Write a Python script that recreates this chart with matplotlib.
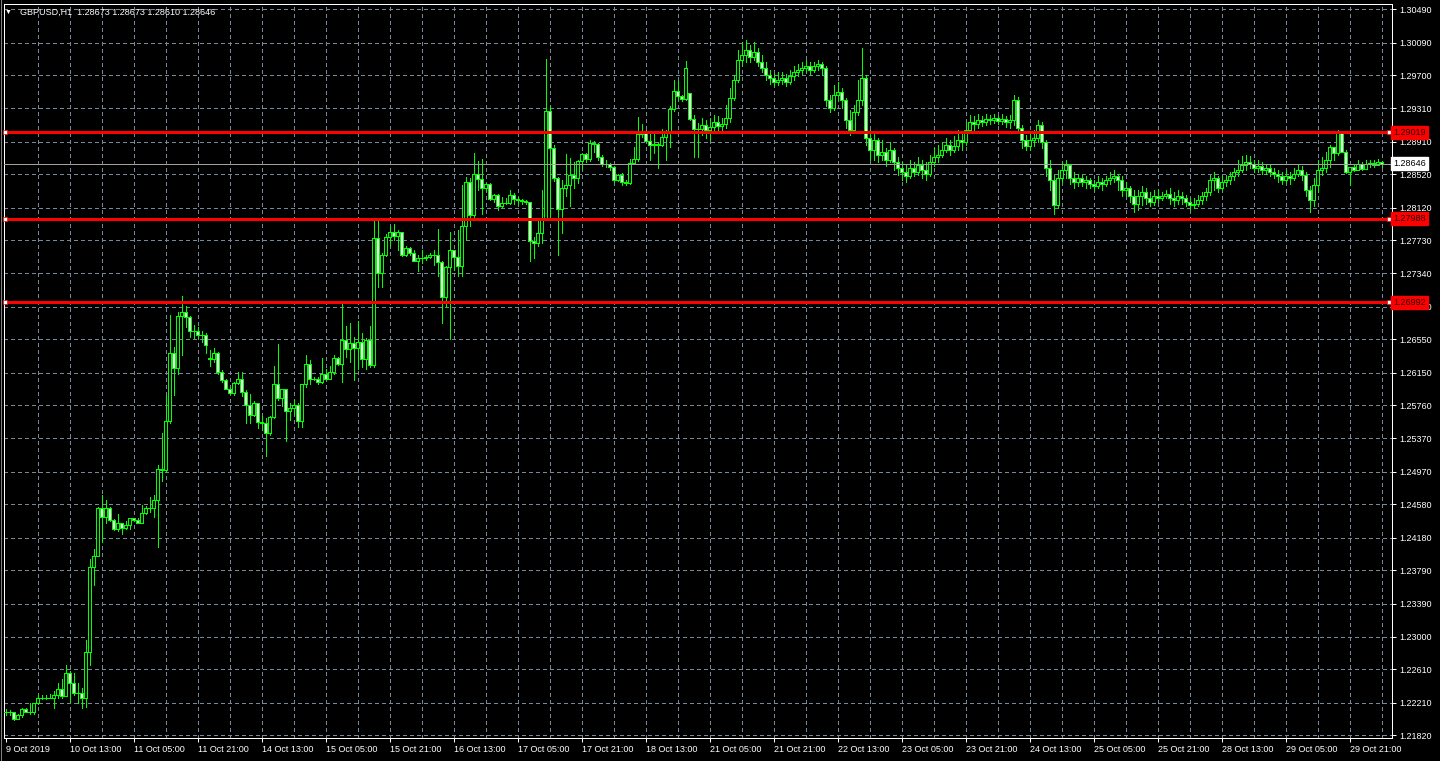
import matplotlib
matplotlib.use('Agg')
import matplotlib.pyplot as plt
from matplotlib.lines import Line2D
from matplotlib.transforms import blended_transform_factory

plt.rcParams['font.family'] = ['Liberation Sans', 'DejaVu Sans']

# --- data (one value per hourly bar) ---
symbol_info = "GBPUSD,H1  1.28673 1.28673 1.28610 1.28646"
first_open = 1.2210
gap_opens = {51: 1.2633, 171: 1.2949}   # Monday opens after the weekend

closes = [
    1.2210, 1.2210, 1.2202, 1.2206, 1.2213, 1.2210, 1.2210, 1.2220, 1.2226, 1.2227,
    1.2227, 1.2227, 1.2230, 1.2237, 1.2229, 1.2256, 1.2244, 1.2232, 1.2232, 1.2226,
    1.2282, 1.2383, 1.2396, 1.2453, 1.2443, 1.2454, 1.2439, 1.2428, 1.2435, 1.2429,
    1.2433, 1.2441, 1.2439, 1.2436, 1.2448, 1.2453, 1.2454, 1.2463, 1.2500, 1.2499,
    1.2557, 1.2639, 1.2621, 1.2683, 1.2688, 1.2682, 1.2665, 1.2665, 1.2660, 1.2660,
    1.2648, 1.2631, 1.2638, 1.2616, 1.2606, 1.2596, 1.2591, 1.2603, 1.2607, 1.2592,
    1.2576, 1.2564, 1.2579, 1.2556, 1.2555, 1.2543, 1.2562, 1.2601, 1.2585, 1.2595,
    1.2569, 1.2573, 1.2576, 1.2557, 1.2601, 1.2626, 1.2607, 1.2608, 1.2604, 1.2614,
    1.2608, 1.2616, 1.2632, 1.2626, 1.2654, 1.2643, 1.2650, 1.2644, 1.2652, 1.2631,
    1.2654, 1.2624, 1.2776, 1.2734, 1.2755, 1.2777, 1.2783, 1.2778, 1.2783, 1.2756,
    1.2764, 1.2758, 1.2749, 1.2752, 1.2752, 1.2753, 1.2756, 1.2755, 1.2747, 1.2705,
    1.2741, 1.2762, 1.2753, 1.2743, 1.2790, 1.2843, 1.2803, 1.2852, 1.2846, 1.2835,
    1.2840, 1.2823, 1.2827, 1.2814, 1.2818, 1.2818, 1.2827, 1.2822, 1.2821, 1.2820,
    1.2819, 1.2772, 1.2770, 1.2782, 1.2798, 1.2928, 1.2883, 1.2848, 1.2811, 1.2836,
    1.2839, 1.2851, 1.2848, 1.2868, 1.2876, 1.2870, 1.2889, 1.2888, 1.2872, 1.2864,
    1.2864, 1.2861, 1.2845, 1.2851, 1.2843, 1.2841, 1.2866, 1.2870, 1.2900, 1.2901,
    1.2892, 1.2887, 1.2888, 1.2887, 1.2897, 1.2901, 1.2930, 1.2952, 1.2945, 1.2942,
    1.2979, 1.2918, 1.2906,
    1.2906, 1.2911, 1.2905, 1.2908, 1.2914, 1.2910, 1.2912, 1.2919, 1.2943, 1.2965,
    1.2989, 1.2994, 1.3000, 1.2992, 1.2998, 1.2986, 1.2979, 1.2971, 1.2967, 1.2962,
    1.2965, 1.2967, 1.2962, 1.2969, 1.2974, 1.2977, 1.2979, 1.2981, 1.2977, 1.2981,
    1.2984, 1.2979, 1.2941, 1.2931, 1.2947, 1.2950, 1.2941, 1.2917, 1.2905, 1.2926,
    1.2941, 1.2967, 1.2895, 1.2881, 1.2893, 1.2875, 1.2879, 1.2869, 1.2881, 1.2867,
    1.2860, 1.2855, 1.2850, 1.2860, 1.2855, 1.2863, 1.2857, 1.2852, 1.2867, 1.2872,
    1.2875, 1.2881, 1.2887, 1.2881, 1.2886, 1.2893, 1.2891, 1.2905, 1.2914, 1.2912,
    1.2917, 1.2914, 1.2918, 1.2917, 1.2919, 1.2916, 1.2918, 1.2914, 1.2917, 1.2941,
    1.2907, 1.2893, 1.2886, 1.2893, 1.2895, 1.2911, 1.2891, 1.2860, 1.2845, 1.2815,
    1.2848, 1.2857, 1.2863, 1.2848, 1.2843, 1.2848, 1.2843, 1.2845, 1.2840, 1.2838,
    1.2843, 1.2840, 1.2845, 1.2848, 1.2850, 1.2845, 1.2833, 1.2836, 1.2826, 1.2817,
    1.2826, 1.2831, 1.2824, 1.2819, 1.2826, 1.2824, 1.2826, 1.2829, 1.2824, 1.2821,
    1.2826, 1.2824, 1.2819, 1.2815, 1.2817, 1.2821, 1.2826, 1.2831, 1.2845, 1.2848,
    1.2836, 1.2843, 1.2845, 1.2850, 1.2855, 1.2857, 1.2863, 1.2867, 1.2864, 1.2860,
    1.2862, 1.2857, 1.2860, 1.2855, 1.2852, 1.2850, 1.2845, 1.2850, 1.2848, 1.2852,
    1.2857, 1.2851, 1.2833, 1.2821, 1.2839, 1.2857, 1.2860, 1.2869, 1.2885, 1.2877,
    1.2902, 1.2879, 1.2855, 1.2861, 1.2857, 1.2864, 1.2858, 1.2864, 1.2866, 1.2863,
    1.2867, 1.28646,
]

highs = [
    1.2214, 1.2212, 1.2210, 1.2208, 1.2215, 1.2215, 1.2221, 1.2221, 1.2230, 1.2230,
    1.2230, 1.2231, 1.2235, 1.2245, 1.2249, 1.2266, 1.2259, 1.2257, 1.2245, 1.2239,
    1.2296, 1.2392, 1.2405, 1.2455, 1.2469, 1.2463, 1.2455, 1.2440, 1.2446, 1.2433,
    1.2438, 1.2441, 1.2442, 1.2441, 1.2457, 1.2456, 1.2467, 1.2469, 1.2505, 1.2543,
    1.2588, 1.2684, 1.2646, 1.2688, 1.2707, 1.2695, 1.2683, 1.2672, 1.2670, 1.2665,
    1.2662, 1.2642, 1.2644, 1.2640, 1.2618, 1.2607, 1.2598, 1.2604, 1.2616, 1.2616,
    1.2594, 1.2590, 1.2581, 1.2579, 1.2563, 1.2561, 1.2563, 1.2623, 1.2649, 1.2596,
    1.2596, 1.2579, 1.2583, 1.2579, 1.2602, 1.2636, 1.2630, 1.2610, 1.2610, 1.2632,
    1.2619, 1.2623, 1.2636, 1.2634, 1.2697, 1.2671, 1.2674, 1.2658, 1.2677, 1.2662,
    1.2656, 1.2671, 1.2797, 1.2798, 1.2758, 1.2781, 1.2790, 1.2793, 1.2785, 1.2779,
    1.2766, 1.2765, 1.2762, 1.2756, 1.2762, 1.2756, 1.2758, 1.2761, 1.2787, 1.2748,
    1.2742, 1.2783, 1.2762, 1.2786, 1.2839, 1.2849, 1.2847, 1.2877, 1.2868, 1.2870,
    1.2841, 1.2841, 1.2829, 1.2829, 1.2825, 1.2824, 1.2833, 1.2830, 1.2825, 1.2823,
    1.2821, 1.2818, 1.2777, 1.2798, 1.2833, 1.2990, 1.2933, 1.2887, 1.2849, 1.2845,
    1.2876, 1.2871, 1.2867, 1.2869, 1.2877, 1.2877, 1.2893, 1.2892, 1.2889, 1.2875,
    1.2869, 1.2866, 1.2862, 1.2852, 1.2854, 1.2845, 1.2870, 1.2884, 1.2920, 1.2912,
    1.2905, 1.2900, 1.2904, 1.2891, 1.2906, 1.2905, 1.2933, 1.2965, 1.2963, 1.2947,
    1.2987, 1.2949, 1.2923,
    1.2913, 1.2919, 1.2917, 1.2919, 1.2923, 1.2922, 1.2919, 1.2935, 1.2955, 1.2971,
    1.3000, 1.3010, 1.3012, 1.3006, 1.3010, 1.3003, 1.2994, 1.2986, 1.2977, 1.2972,
    1.2974, 1.2974, 1.2972, 1.2977, 1.2981, 1.2984, 1.2986, 1.2989, 1.2986, 1.2986,
    1.2989, 1.2986, 1.2981, 1.2947, 1.2959, 1.2962, 1.2955, 1.2943, 1.2929, 1.2935,
    1.2965, 1.3003, 1.2971, 1.2905, 1.2903, 1.2895, 1.2893, 1.2883, 1.2891, 1.2883,
    1.2872, 1.2867, 1.2863, 1.2869, 1.2867, 1.2872, 1.2869, 1.2867, 1.2875, 1.2883,
    1.2887, 1.2891, 1.2895, 1.2893, 1.2898, 1.2905, 1.2903, 1.2914, 1.2923, 1.2922,
    1.2924, 1.2922, 1.2924, 1.2923, 1.2924, 1.2922, 1.2924, 1.2922, 1.2923, 1.2947,
    1.2944, 1.2911, 1.2899, 1.2903, 1.2905, 1.2917, 1.2914, 1.2893, 1.2869, 1.2851,
    1.2857, 1.2867, 1.2869, 1.2864, 1.2855, 1.2852, 1.2851, 1.2850, 1.2848, 1.2845,
    1.2850, 1.2848, 1.2850, 1.2855, 1.2857, 1.2852, 1.2850, 1.2843, 1.2838, 1.2833,
    1.2833, 1.2838, 1.2836, 1.2831, 1.2833, 1.2833, 1.2831, 1.2833, 1.2836, 1.2831,
    1.2833, 1.2831, 1.2827, 1.2824, 1.2824, 1.2827, 1.2831, 1.2836, 1.2851, 1.2855,
    1.2850, 1.2850, 1.2851, 1.2855, 1.2860, 1.2869, 1.2874, 1.2875, 1.2874, 1.2869,
    1.2869, 1.2867, 1.2864, 1.2863, 1.2860, 1.2857, 1.2855, 1.2857, 1.2855, 1.2860,
    1.2864, 1.2862, 1.2855, 1.2838, 1.2848, 1.2869, 1.2872, 1.2879, 1.2887, 1.2883,
    1.2905, 1.2903, 1.2881, 1.2861, 1.2863, 1.2869, 1.2867, 1.2869, 1.2869, 1.2869,
    1.2870, 1.28673,
]

lows = [
    1.2206, 1.2206, 1.2200, 1.2201, 1.2204, 1.2210, 1.2208, 1.2208, 1.2219, 1.2225,
    1.2225, 1.2226, 1.2215, 1.2226, 1.2227, 1.2229, 1.2222, 1.2230, 1.2221, 1.2215,
    1.2216, 1.2266, 1.2361, 1.2396, 1.2413, 1.2436, 1.2438, 1.2427, 1.2426, 1.2423,
    1.2428, 1.2428, 1.2438, 1.2435, 1.2436, 1.2446, 1.2449, 1.2443, 1.2407, 1.2486,
    1.2496, 1.2555, 1.2588, 1.2613, 1.2636, 1.2670, 1.2658, 1.2656, 1.2656, 1.2652,
    1.2638, 1.2623, 1.2628, 1.2614, 1.2604, 1.2595, 1.2590, 1.2588, 1.2602, 1.2587,
    1.2555, 1.2555, 1.2563, 1.2549, 1.2547, 1.2515, 1.2541, 1.2561, 1.2582, 1.2575,
    1.2533, 1.2558, 1.2565, 1.2550, 1.2550, 1.2598, 1.2602, 1.2606, 1.2602, 1.2603,
    1.2606, 1.2608, 1.2614, 1.2624, 1.2604, 1.2634, 1.2628, 1.2606, 1.2620, 1.2622,
    1.2619, 1.2622, 1.2622, 1.2717, 1.2717, 1.2754, 1.2766, 1.2774, 1.2762, 1.2754,
    1.2754, 1.2756, 1.2748, 1.2737, 1.2746, 1.2750, 1.2752, 1.2744, 1.2731, 1.2674,
    1.2693, 1.2655, 1.2738, 1.2731, 1.2731, 1.2774, 1.2790, 1.2801, 1.2833, 1.2805,
    1.2832, 1.2821, 1.2819, 1.2809, 1.2813, 1.2817, 1.2817, 1.2817, 1.2817, 1.2817,
    1.2817, 1.2748, 1.2752, 1.2766, 1.2770, 1.2799, 1.2797, 1.2844, 1.2756, 1.2782,
    1.2826, 1.2814, 1.2835, 1.2841, 1.2858, 1.2867, 1.2868, 1.2879, 1.2869, 1.2862,
    1.2861, 1.2857, 1.2843, 1.2844, 1.2839, 1.2839, 1.2840, 1.2864, 1.2868, 1.2897,
    1.2891, 1.2869, 1.2877, 1.2860, 1.2886, 1.2869, 1.2885, 1.2928, 1.2941, 1.2940,
    1.2941, 1.2917, 1.2873,
    1.2873, 1.2899, 1.2895, 1.2893, 1.2903, 1.2905, 1.2905, 1.2907, 1.2914, 1.2941,
    1.2962, 1.2983, 1.2986, 1.2986, 1.2989, 1.2981, 1.2974, 1.2965, 1.2960, 1.2957,
    1.2959, 1.2960, 1.2957, 1.2960, 1.2965, 1.2969, 1.2972, 1.2974, 1.2972, 1.2974,
    1.2977, 1.2971, 1.2934, 1.2926, 1.2929, 1.2941, 1.2931, 1.2907, 1.2899, 1.2903,
    1.2923, 1.2935, 1.2887, 1.2869, 1.2869, 1.2867, 1.2869, 1.2862, 1.2867, 1.2857,
    1.2851, 1.2845, 1.2843, 1.2848, 1.2850, 1.2851, 1.2848, 1.2845, 1.2850, 1.2862,
    1.2867, 1.2872, 1.2879, 1.2875, 1.2879, 1.2881, 1.2881, 1.2887, 1.2903, 1.2905,
    1.2907, 1.2910, 1.2911, 1.2912, 1.2913, 1.2912, 1.2912, 1.2908, 1.2907, 1.2911,
    1.2903, 1.2883, 1.2881, 1.2881, 1.2886, 1.2891, 1.2883, 1.2850, 1.2833, 1.2805,
    1.2812, 1.2843, 1.2848, 1.2840, 1.2836, 1.2838, 1.2838, 1.2836, 1.2836, 1.2833,
    1.2836, 1.2833, 1.2838, 1.2840, 1.2843, 1.2833, 1.2826, 1.2826, 1.2819, 1.2807,
    1.2809, 1.2815, 1.2817, 1.2814, 1.2815, 1.2819, 1.2821, 1.2824, 1.2817, 1.2814,
    1.2817, 1.2817, 1.2814, 1.2809, 1.2812, 1.2814, 1.2817, 1.2821, 1.2827, 1.2833,
    1.2831, 1.2833, 1.2838, 1.2840, 1.2845, 1.2850, 1.2855, 1.2857, 1.2860, 1.2855,
    1.2855, 1.2852, 1.2852, 1.2850, 1.2848, 1.2843, 1.2840, 1.2843, 1.2840, 1.2845,
    1.2850, 1.2845, 1.2826, 1.2807, 1.2814, 1.2831, 1.2851, 1.2855, 1.2861, 1.2869,
    1.2875, 1.2879, 1.2854, 1.2839, 1.2856, 1.2857, 1.2857, 1.2862, 1.2861, 1.2861,
    1.2864, 1.28610,
]

time_labels = [
    "9 Oct 2019", "10 Oct 13:00", "11 Oct 05:00", "11 Oct 21:00", "14 Oct 13:00",
    "15 Oct 05:00", "15 Oct 21:00", "16 Oct 13:00", "17 Oct 05:00", "17 Oct 21:00",
    "18 Oct 13:00", "21 Oct 05:00", "21 Oct 21:00", "22 Oct 13:00", "23 Oct 05:00",
    "23 Oct 21:00", "24 Oct 13:00", "25 Oct 05:00", "25 Oct 21:00", "28 Oct 13:00",
    "29 Oct 05:00", "29 Oct 21:00",
]
bars_per_label = 16

price_ticks = [
    1.21820, 1.22210, 1.22610, 1.23000, 1.23390, 1.23790, 1.24180, 1.24580,
    1.24970, 1.25370, 1.25760, 1.26150, 1.26550, 1.26940, 1.27340, 1.27730,
    1.28120, 1.28520, 1.28910, 1.29310, 1.29700, 1.30090, 1.30490,
]

level_prices = [1.29019, 1.27988, 1.26992]
bid_price = 1.28646

# --- colours ---
LIME = '#00ff00'
GRID = '#778899'
PX = 0.72  # one pixel in points at 100 dpi

# --- build candles ---
n = len(closes)
xs = list(range(n))
opens = [first_open] + closes[:-1]
for i, o in gap_opens.items():
    opens[i] = o
hi = [max(h, o, c) for h, o, c in zip(highs, opens, closes)]
lo = [min(l, o, c) for l, o, c in zip(lows, opens, closes)]

fig = plt.figure(figsize=(14.4, 7.61), dpi=100, facecolor='black')
ax = fig.add_axes([4 / 1440, 23 / 761, 1388 / 1440, 734 / 761])
ax.set_facecolor('black')
ax.set_xlim(-0.425, 346.6)
ax.set_ylim(1.21788, 1.30553)

# grid
for p in price_ticks:
    ax.axhline(p, color=GRID, lw=PX, ls=(0, (3, 3)), zorder=1, antialiased=False)
for b in range(8, 347, 8):
    ax.axvline(b, color=GRID, lw=PX, ls=(0, (3, 3)), zorder=1, antialiased=False)

# candles: black body = up bar, white body = down bar
ax.vlines(xs, lo, hi, color=LIME, lw=PX, zorder=2, antialiased=False)
bottoms = [min(o, c) for o, c in zip(opens, closes)]
heights = [abs(c - o) for o, c in zip(opens, closes)]
faces = ['white' if c < o else 'black' for o, c in zip(opens, closes)]
ax.bar(xs, heights, bottom=bottoms, width=0.6, color=faces,
       edgecolor=LIME, linewidth=PX, zorder=3, antialiased=False)

# horizontal levels
edge_tr = blended_transform_factory(ax.transAxes, ax.transData)
for lv in level_prices:
    ax.axhline(lv, color='red', lw=1.0, zorder=4, antialiased=False)
    ax.plot([1 / 1388, 1 - 3 / 1388], [lv, lv], ls='none', marker='s', ms=3,
            mfc='white', mec='red', mew=0.5, transform=edge_tr, zorder=5, clip_on=False)
    ax.text(1.0008, lv, f"{lv:.5f}", transform=edge_tr, ha='left', va='center',
            fontsize=6.5, color='#200000',
            bbox=dict(boxstyle='square,pad=0.22', fc='red', ec='red'), zorder=6, clip_on=False)

ax.axhline(bid_price, color='#a0a0a0', lw=PX, zorder=4, snap=True)
ax.text(1.0008, bid_price, f"{bid_price:.5f}", transform=edge_tr, ha='left', va='center',
        fontsize=6.5, color='black',
        bbox=dict(boxstyle='square,pad=0.22', fc='white', ec='white'), zorder=6, clip_on=False)

# axes frame and ticks
for side in ['left', 'bottom', 'right', 'top']:
    ax.spines[side].set_color('white')
    ax.spines[side].set_linewidth(PX)

ax.yaxis.tick_right()
ax.set_yticks(price_ticks)
ax.set_yticklabels([f"{p:.5f}" for p in price_ticks])
ax.tick_params(axis='y', colors='white', labelsize=6.5, length=3, width=PX, pad=2)

ax.set_xticks([i * bars_per_label for i in range(len(time_labels))])
ax.set_xticklabels(time_labels)
ax.tick_params(axis='x', colors='white', labelsize=6.5, length=3, width=PX, pad=2)
for t in ax.get_xticklabels():
    t.set_horizontalalignment('left')

# window edge
fig.add_artist(Line2D([0.5 / 1440, 0.5 / 1440], [0, 1], color='#808080', lw=PX))
fig.add_artist(Line2D([0, 1], [0.5 / 761, 0.5 / 761], color='#808080', lw=PX))

# header
fig.text(5 / 1440, 1 - 12 / 761, '\u25bc', color='white', fontsize=5, va='center')
fig.text(20 / 1440, 1 - 12 / 761, symbol_info, color='white', fontsize=6.5, va='center')

fig.savefig('out.png', dpi=100, facecolor='black')
